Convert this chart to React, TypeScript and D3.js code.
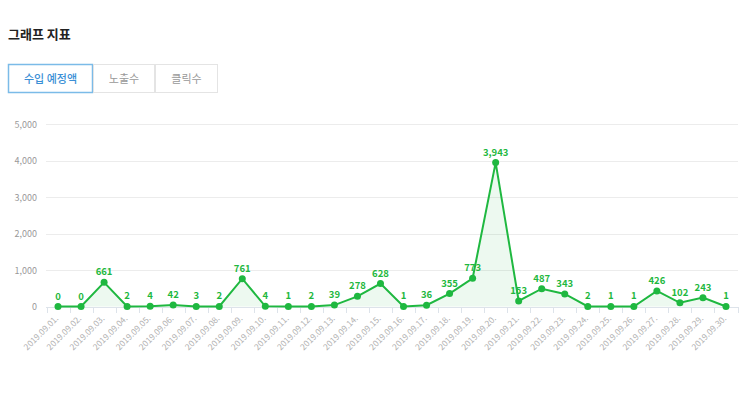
import { useEffect, useRef } from 'react';
import * as d3 from 'd3';

const dates = [
  '2019.09.01', '2019.09.02', '2019.09.03', '2019.09.04', '2019.09.05', '2019.09.06',
  '2019.09.07', '2019.09.08', '2019.09.09', '2019.09.10', '2019.09.11', '2019.09.12',
  '2019.09.13', '2019.09.14', '2019.09.15', '2019.09.16', '2019.09.17', '2019.09.18',
  '2019.09.19', '2019.09.20', '2019.09.21', '2019.09.22', '2019.09.23', '2019.09.24',
  '2019.09.25', '2019.09.26', '2019.09.27', '2019.09.28', '2019.09.29', '2019.09.30',
];

const revenue = [
  0, 0, 661, 2, 4, 42, 3, 2, 761, 4, 1, 2, 39, 278, 628,
  1, 36, 355, 773, 3943, 153, 487, 343, 2, 1, 1, 426, 102, 243, 1,
];

const yTicks = [0, 1000, 2000, 3000, 4000, 5000];
const tabs = ['수입 예정액', '노출수', '클릭수'];

const FONT = "'Noto Sans CJK KR', 'Noto Sans', sans-serif";
const GREEN = '#1fb840';

export default function App() {
  const svgRef = useRef<SVGSVGElement>(null);

  useEffect(() => {
    if (!svgRef.current) return;
    const svg = d3.select(svgRef.current);
    svg.selectAll('*').remove();

    // title
    svg.append('text')
      .attr('x', 8)
      .attr('y', 39)
      .attr('font-family', FONT)
      .attr('font-size', 13)
      .attr('font-weight', 'bold')
      .attr('fill', '#222')
      .text('그래프 지표');

    // tabs
    const tabX = [8, 93, 155, 218];
    tabs.forEach((t, i) => {
      svg.append('rect')
        .attr('x', tabX[i] + 0.5)
        .attr('y', 64.5)
        .attr('width', tabX[i + 1] - tabX[i] - 1)
        .attr('height', 28)
        .attr('fill', '#fff')
        .attr('stroke', i === 0 ? '#7bbbe8' : '#e4e4e4')
        .attr('stroke-width', i === 0 ? 1.5 : 1);
      svg.append('text')
        .attr('x', (tabX[i] + tabX[i + 1]) / 2)
        .attr('y', 82.5)
        .attr('text-anchor', 'middle')
        .attr('font-family', FONT)
        .attr('font-size', 11)
        .attr('font-weight', i === 0 ? 500 : 400)
        .attr('fill', i === 0 ? '#3b8fd6' : '#999')
        .text(t);
    });

    const x = d3.scaleBand<string>().domain(dates).range([46.5, 737.5]);
    const y = d3.scaleLinear().domain([0, 5000]).range([306.5, 124]);

    // grid
    svg.append('g')
      .selectAll('line')
      .data(yTicks)
      .enter()
      .append('line')
      .attr('x1', 46)
      .attr('x2', 738)
      .attr('y1', d => Math.round(y(d)) + 0.5)
      .attr('y2', d => Math.round(y(d)) + 0.5)
      .attr('stroke', d => (d === 0 ? '#dde3ea' : '#ececec'))
      .attr('stroke-width', 1);

    svg.append('g')
      .selectAll('text')
      .data(yTicks)
      .enter()
      .append('text')
      .attr('x', 37)
      .attr('y', d => y(d) + 3.5)
      .attr('text-anchor', 'end')
      .attr('font-family', FONT)
      .attr('font-size', 9)
      .attr('fill', '#999')
      .text(d => d3.format(',')(d));

    // x tick marks at band boundaries
    const bounds = dates.map(d => x(d) as number).concat([x.range()[1]]);
    svg.append('g')
      .selectAll('line')
      .data(bounds)
      .enter()
      .append('line')
      .attr('x1', d => Math.round(d) + 0.5)
      .attr('x2', d => Math.round(d) + 0.5)
      .attr('y1', 307)
      .attr('y2', 313)
      .attr('stroke', '#dde3ea');

    // x labels
    svg.append('g')
      .selectAll('text')
      .data(dates)
      .enter()
      .append('text')
      .attr('transform', d => {
        const cx = (x(d) as number) + x.bandwidth() / 2;
        return `translate(${cx + 1},${319}) rotate(-45)`;
      })
      .attr('text-anchor', 'end')
      .attr('font-family', FONT)
      .attr('font-size', 8.5)
      .attr('fill', '#b0b0b0')
      .text(d => d + '.');

    const cx = (i: number) => (x(dates[i]) as number) + x.bandwidth() / 2;

    const area = d3.area<number>()
      .x((_, i) => cx(i))
      .y0(y(0))
      .y1(d => y(d));
    svg.append('path')
      .datum(revenue)
      .attr('d', area)
      .attr('fill', GREEN)
      .attr('fill-opacity', 0.08);

    const line = d3.line<number>()
      .x((_, i) => cx(i))
      .y(d => y(d));
    svg.append('path')
      .datum(revenue)
      .attr('d', line)
      .attr('fill', 'none')
      .attr('stroke', GREEN)
      .attr('stroke-width', 2);

    svg.append('g')
      .selectAll('circle')
      .data(revenue)
      .enter()
      .append('circle')
      .attr('cx', (_, i) => cx(i))
      .attr('cy', d => y(d))
      .attr('r', 3.5)
      .attr('fill', GREEN);

    svg.append('g')
      .selectAll('text')
      .data(revenue)
      .enter()
      .append('text')
      .attr('x', (_, i) => cx(i))
      .attr('y', d => y(d) - 7)
      .attr('text-anchor', 'middle')
      .attr('font-family', FONT)
      .attr('font-size', 9.5)
      .attr('font-weight', 'bold')
      .attr('fill', GREEN)
      .text(d => d3.format(',')(d));
  }, []);

  return (
    <svg
      ref={svgRef}
      width={743}
      height={395}
      style={{ position: 'absolute', left: 0, top: 0, background: '#fff' }}
    />
  );
}
